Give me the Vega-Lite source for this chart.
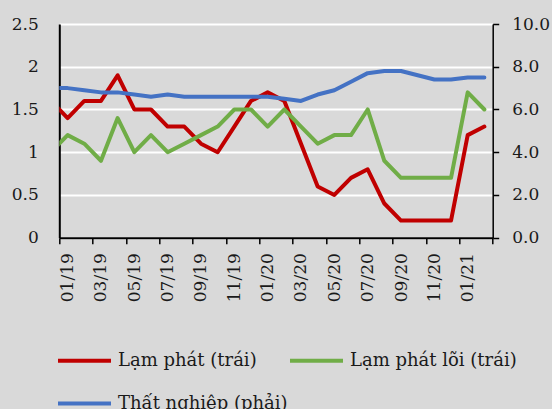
{
  "$schema": "https://vega.github.io/schema/vega-lite/v6.json",
  "width": 433.4,
  "height": 213.7,
  "autosize": {"type": "none"},
  "padding": {"left": 59.3, "top": 24, "right": 59.3, "bottom": 171.3},
  "background": "#d9d9d9",
  "config": {
    "view": {"stroke": null},
    "axis": {
      "labelFont": "DejaVu Serif",
      "labelFontSize": 17,
      "labelColor": "#1a1a1a",
      "domainColor": "#000000",
      "tickColor": "#000000",
      "labelOverlap": false,
      "title": null
    },
    "legend": {
      "labelFont": "DejaVu Serif",
      "labelFontSize": 18,
      "labelColor": "#1a1a1a",
      "labelLimit": 400
    }
  },
  "data": {
    "values": [
      {"thang": "12/18", "i": -1, "lp": 1.6, "lpl": 1.0, "tn": 7.0},
      {"thang": "01/19", "i": 0, "lp": 1.4, "lpl": 1.2, "tn": 7.0},
      {"thang": "02/19", "i": 1, "lp": 1.6, "lpl": 1.1, "tn": 6.9},
      {"thang": "03/19", "i": 2, "lp": 1.6, "lpl": 0.9, "tn": 6.8},
      {"thang": "04/19", "i": 3, "lp": 1.9, "lpl": 1.4, "tn": 6.8},
      {"thang": "05/19", "i": 4, "lp": 1.5, "lpl": 1.0, "tn": 6.7},
      {"thang": "06/19", "i": 5, "lp": 1.5, "lpl": 1.2, "tn": 6.6},
      {"thang": "07/19", "i": 6, "lp": 1.3, "lpl": 1.0, "tn": 6.7},
      {"thang": "08/19", "i": 7, "lp": 1.3, "lpl": 1.1, "tn": 6.6},
      {"thang": "09/19", "i": 8, "lp": 1.1, "lpl": 1.2, "tn": 6.6},
      {"thang": "10/19", "i": 9, "lp": 1.0, "lpl": 1.3, "tn": 6.6},
      {"thang": "11/19", "i": 10, "lp": 1.3, "lpl": 1.5, "tn": 6.6},
      {"thang": "12/19", "i": 11, "lp": 1.6, "lpl": 1.5, "tn": 6.6},
      {"thang": "01/20", "i": 12, "lp": 1.7, "lpl": 1.3, "tn": 6.6},
      {"thang": "02/20", "i": 13, "lp": 1.6, "lpl": 1.5, "tn": 6.5},
      {"thang": "03/20", "i": 14, "lp": 1.1, "lpl": 1.3, "tn": 6.4},
      {"thang": "04/20", "i": 15, "lp": 0.6, "lpl": 1.1, "tn": 6.7},
      {"thang": "05/20", "i": 16, "lp": 0.5, "lpl": 1.2, "tn": 6.9},
      {"thang": "06/20", "i": 17, "lp": 0.7, "lpl": 1.2, "tn": 7.3},
      {"thang": "07/20", "i": 18, "lp": 0.8, "lpl": 1.5, "tn": 7.7},
      {"thang": "08/20", "i": 19, "lp": 0.4, "lpl": 0.9, "tn": 7.8},
      {"thang": "09/20", "i": 20, "lp": 0.2, "lpl": 0.7, "tn": 7.8},
      {"thang": "10/20", "i": 21, "lp": 0.2, "lpl": 0.7, "tn": 7.6},
      {"thang": "11/20", "i": 22, "lp": 0.2, "lpl": 0.7, "tn": 7.4},
      {"thang": "12/20", "i": 23, "lp": 0.2, "lpl": 0.7, "tn": 7.4},
      {"thang": "01/21", "i": 24, "lp": 1.2, "lpl": 1.7, "tn": 7.5},
      {"thang": "02/21", "i": 25, "lp": 1.3, "lpl": 1.5, "tn": 7.5}
    ]
  },
  "layer": [
    {
      "layer": [
        {
          "mark": {"type": "line", "clip": true, "strokeWidth": 4, "strokeJoin": "round", "strokeCap": "round"},
          "encoding": {
            "x": {
              "field": "i", "type": "quantitative",
              "scale": {"domain": [-0.5, 25.5], "nice": false, "zero": false},
              "axis": {
                "values": [-0.5, 1.5, 3.5, 5.5, 7.5, 9.5, 11.5, 13.5, 15.5, 17.5, 19.5, 21.5, 23.5, 25.5],
                "grid": false, "domainWidth": 2, "tickSize": 6, "tickWidth": 1.5,
                "labelAngle": 270, "labelPadding": 9, "labelOffset": 8.33, "labelFlush": false, "labelOverlap": false, "labelBound": false,
                "labelExpr": "datum.value > 25 ? '' : (((datum.value + 0.5) % 12) < 9 ? '0' : '') + (((datum.value + 0.5) % 12) + 1) + '/' + (19 + floor((datum.value + 0.5) / 12))"
              }
            },
            "y": {
              "field": "lp", "type": "quantitative",
              "scale": {"domain": [0, 2.5], "nice": false},
              "axis": {
                "values": [0, 0.5, 1, 1.5, 2, 2.5], "format": "~g",
                "ticks": false, "domainWidth": 2, "labelPadding": 21,
                "grid": true, "gridColor": "#ffffff", "gridWidth": 2
              }
            },
            "color": {
              "datum": "Lạm phát (trái)",
              "scale": {
                "domain": ["Lạm phát (trái)", "Lạm phát lõi (trái)", "Thất nghiệp (phải)"],
                "range": ["#c00000", "#70ad47", "#4472c4"]
              },
              "legend": {
                "orient": "none", "legendX": -3.3, "legendY": 308, "title": null,
                "direction": "horizontal", "columns": 2, "columnPadding": -8.5, "rowPadding": 5,
                "symbolType": "stroke", "symbolSize": 2809, "symbolStrokeWidth": 4, "labelOffset": 5, "labelLimit": 400
              }
            }
          }
        },
        {
          "mark": {"type": "line", "clip": true, "strokeWidth": 4, "strokeJoin": "round", "strokeCap": "round"},
          "encoding": {
            "x": {
              "field": "i", "type": "quantitative",
              "scale": {"domain": [-0.5, 25.5], "nice": false, "zero": false},
              "axis": {
                "values": [-0.5, 1.5, 3.5, 5.5, 7.5, 9.5, 11.5, 13.5, 15.5, 17.5, 19.5, 21.5, 23.5, 25.5],
                "grid": false, "domainWidth": 2, "tickSize": 6, "tickWidth": 1.5,
                "labelAngle": 270, "labelPadding": 9, "labelOffset": 8.33, "labelFlush": false, "labelOverlap": false, "labelBound": false,
                "labelExpr": "datum.value > 25 ? '' : (((datum.value + 0.5) % 12) < 9 ? '0' : '') + (((datum.value + 0.5) % 12) + 1) + '/' + (19 + floor((datum.value + 0.5) / 12))"
              }
            },
            "y": {
              "field": "lpl", "type": "quantitative",
              "scale": {"domain": [0, 2.5], "nice": false}
            },
            "color": {"datum": "Lạm phát lõi (trái)"}
          }
        }
      ]
    },
    {
      "mark": {"type": "line", "clip": true, "strokeWidth": 4, "strokeJoin": "round", "strokeCap": "round"},
      "encoding": {
        "x": {
          "field": "i", "type": "quantitative",
          "scale": {"domain": [-0.5, 25.5], "nice": false, "zero": false},
          "axis": {
            "values": [-0.5, 1.5, 3.5, 5.5, 7.5, 9.5, 11.5, 13.5, 15.5, 17.5, 19.5, 21.5, 23.5, 25.5],
            "grid": false, "domainWidth": 2, "tickSize": 6, "tickWidth": 1.5,
            "labelAngle": 270, "labelPadding": 9, "labelOffset": 8.33, "labelFlush": false, "labelOverlap": false, "labelBound": false,
            "labelExpr": "datum.value > 25 ? '' : (((datum.value + 0.5) % 12) < 9 ? '0' : '') + (((datum.value + 0.5) % 12) + 1) + '/' + (19 + floor((datum.value + 0.5) / 12))"
          }
        },
        "y": {
          "field": "tn", "type": "quantitative",
          "scale": {"domain": [0, 10], "nice": false},
          "axis": {
            "orient": "right", "values": [0, 2, 4, 6, 8, 10], "format": ".1f",
            "grid": false, "domainWidth": 1.5, "tickSize": 6, "tickWidth": 1.5, "labelPadding": 13
          }
        },
        "color": {"datum": "Thất nghiệp (phải)"}
      }
    }
  ],
  "resolve": {"scale": {"y": "independent"}}
}
